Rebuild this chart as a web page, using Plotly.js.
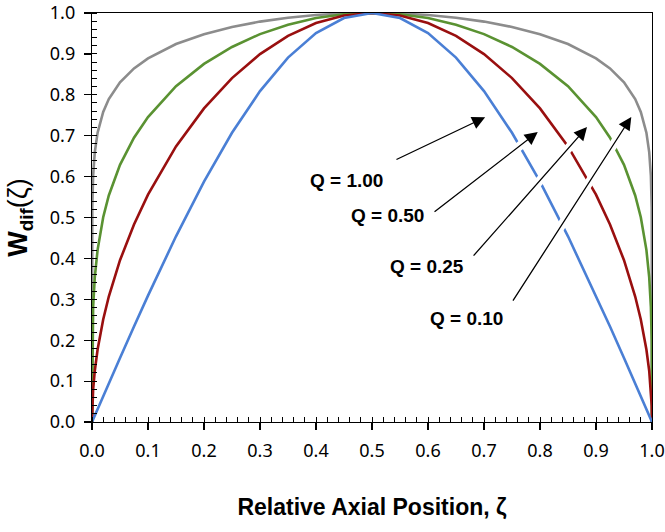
<!DOCTYPE html>
<html>
<head>
<meta charset="utf-8">
<script src="https://cdn.plot.ly/plotly-3.0.1.min.js"></script>
<style>html,body{margin:0;padding:0;background:#fff;}#chart{width:665px;height:532px;}</style>
</head>
<body>
<div id="chart"></div>
<script>
// Relative axial position (zeta)
const zeta = [0, 0.0005, 0.002, 0.005, 0.01, 0.02, 0.03, 0.05, 0.075, 0.1, 0.15, 0.2, 0.25, 0.3, 0.35, 0.4, 0.45, 0.5,
  0.55, 0.6, 0.65, 0.7, 0.75, 0.8, 0.85, 0.9, 0.925, 0.95, 0.97, 0.98, 0.99, 0.995, 0.998, 0.9995, 1];

const wQ100 = [0, 0.0016, 0.0063, 0.0157, 0.0314, 0.0628, 0.0941, 0.1564, 0.2334, 0.3090, 0.4540, 0.5878, 0.7071, 0.8090, 0.8910, 0.9511, 0.9877, 1,
  0.9877, 0.9511, 0.8910, 0.8090, 0.7071, 0.5878, 0.4540, 0.3090, 0.2334, 0.1564, 0.0941, 0.0628, 0.0314, 0.0157, 0.0063, 0.0016, 0];

const wQ050 = [0, 0.0396, 0.0793, 0.1253, 0.1772, 0.2506, 0.3068, 0.3955, 0.4831, 0.5559, 0.6738, 0.7667, 0.8409, 0.8995, 0.9439, 0.9753, 0.9938, 1,
  0.9938, 0.9753, 0.9439, 0.8995, 0.8409, 0.7667, 0.6738, 0.5559, 0.4831, 0.3955, 0.3068, 0.2506, 0.1772, 0.1253, 0.0793, 0.0396, 0];

const wQ025 = [0, 0.1990, 0.2816, 0.3540, 0.4210, 0.5006, 0.5539, 0.6289, 0.6950, 0.7456, 0.8209, 0.8756, 0.9170, 0.9484, 0.9715, 0.9876, 0.9969, 1,
  0.9969, 0.9876, 0.9715, 0.9484, 0.9170, 0.8756, 0.8209, 0.7456, 0.6950, 0.6289, 0.5539, 0.5006, 0.4210, 0.3540, 0.2816, 0.1990, 0];

const wQ010 = [0, 0.5243, 0.6023, 0.6601, 0.7074, 0.7582, 0.7896, 0.8307, 0.8646, 0.8892, 0.9241, 0.9483, 0.9659, 0.9790, 0.9885, 0.9950, 0.9988, 1,
  0.9988, 0.9950, 0.9885, 0.9790, 0.9659, 0.9483, 0.9241, 0.8892, 0.8646, 0.8307, 0.7896, 0.7582, 0.7074, 0.6601, 0.6023, 0.5243, 0];

const labels = ["Q = 1.00", "Q = 0.50", "Q = 0.25", "Q = 0.10"];
const labelX = [0.455, 0.527, 0.598, 0.668];
const labelY = [0.590, 0.504, 0.381, 0.254];
const tailX = [0.541, 0.609, 0.679, 0.750];
const tailY = [0.640, 0.511, 0.403, 0.293];
const headX = [0.702, 0.796, 0.884, 0.963];
const headY = [0.745, 0.709, 0.721, 0.746];

const ticks = [0, 0.1, 0.2, 0.3, 0.4, 0.5, 0.6, 0.7, 0.8, 0.9, 1.0];
const tickText = ["0.0", "0.1", "0.2", "0.3", "0.4", "0.5", "0.6", "0.7", "0.8", "0.9", "1.0"];

const series = [
  {y: wQ010, color: '#8c8c8c', name: 'Q = 0.10'},
  {y: wQ025, color: '#5a9232', name: 'Q = 0.25'},
  {y: wQ050, color: '#990f0f', name: 'Q = 0.50'},
  {y: wQ100, color: '#4a7fd5', name: 'Q = 1.00'}
];

const traces = series.map(s => ({
  x: zeta, y: s.y, type: 'scatter', mode: 'lines', name: s.name,
  line: {color: s.color, width: 2.6}, hoverinfo: 'skip'
}));

// white halo under each arrow (cuts the curves where arrows cross, as in the reference)
for (let i = 0; i < labels.length; i++) {
  traces.push({x: [tailX[i], headX[i]], y: [tailY[i], headY[i]], type: 'scatter', mode: 'lines',
    line: {color: '#ffffff', width: 9}, hoverinfo: 'skip', showlegend: false});
}

const annotations = [];
for (let i = 0; i < labels.length; i++) {
  annotations.push({x: headX[i], y: headY[i], ax: tailX[i], ay: tailY[i], xref: 'x', yref: 'y', axref: 'x', ayref: 'y',
    text: '', showarrow: true, arrowhead: 2, arrowsize: 2.0, arrowwidth: 1.3, arrowcolor: '#000000', standoff: 0});
  annotations.push({x: labelX[i], y: labelY[i], xref: 'x', yref: 'y', text: '<b>' + labels[i] + '</b>', showarrow: false,
    font: {family: 'Liberation Sans, Arial, sans-serif', size: 19, color: '#000'}});
}

const axisCommon = {
  range: [0, 1], tickvals: ticks, ticktext: tickText, showgrid: false, zeroline: false,
  showline: true, linecolor: '#000', linewidth: 1.2, mirror: true,
  ticks: 'outside', ticklen: 7, tickwidth: 1.2, tickcolor: '#000',
  ticklabelstandoff: 5,
  minor: {dtick: 0.02, ticks: 'inside', ticklen: 5, tickwidth: 1, tickcolor: '#000', showgrid: false},
  tickfont: {family: 'Noto Sans, Open Sans, sans-serif', size: 18, color: '#000'}
};

const layout = {
  width: 665, height: 532,
  margin: {l: 92, r: 13, t: 13, b: 110},
  paper_bgcolor: '#fff', plot_bgcolor: '#fff', showlegend: false,
  xaxis: Object.assign({}, axisCommon, {
    title: {text: '<b>Relative Axial Position, ζ</b>', standoff: 38,
      font: {family: 'Liberation Sans, Arial, sans-serif', size: 23, color: '#000'}}
  }),
  yaxis: Object.assign({}, axisCommon, {
    title: {text: '<b>W<sub>dif</sub></b>(ζ)', standoff: 14,
      font: {family: 'Liberation Sans, Arial, sans-serif', size: 27, color: '#000'}}
  }),
  annotations: annotations
};

Plotly.newPlot('chart', traces, layout, {displayModeBar: false, staticPlot: true});
</script>
</body>
</html>
